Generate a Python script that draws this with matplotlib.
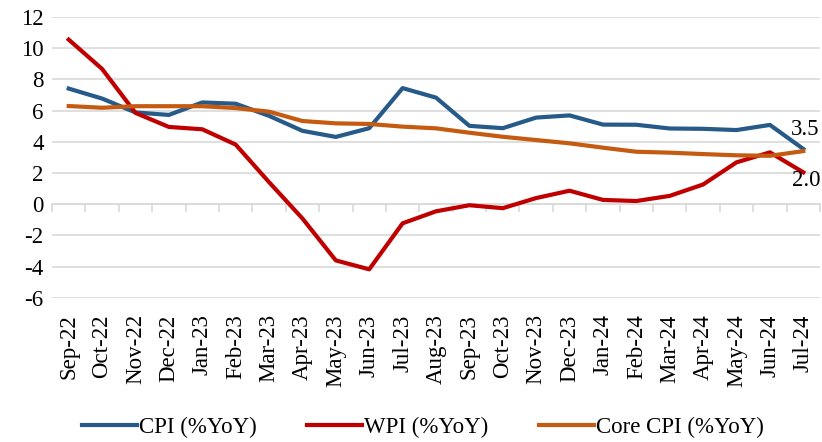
import numpy as np
import matplotlib.pyplot as plt

plt.rcParams['font.family'] = ['Liberation Serif', 'DejaVu Serif']
plt.rcParams['axes.unicode_minus'] = False

months = ['Sep-22', 'Oct-22', 'Nov-22', 'Dec-22', 'Jan-23', 'Feb-23', 'Mar-23',
          'Apr-23', 'May-23', 'Jun-23', 'Jul-23', 'Aug-23', 'Sep-23', 'Oct-23',
          'Nov-23', 'Dec-23', 'Jan-24', 'Feb-24', 'Mar-24', 'Apr-24', 'May-24',
          'Jun-24', 'Jul-24']
cpi = [7.41, 6.77, 5.88, 5.72, 6.52, 6.44, 5.66, 4.70, 4.31, 4.87, 7.44, 6.83,
       5.02, 4.87, 5.55, 5.69, 5.10, 5.09, 4.85, 4.83, 4.75, 5.08, 3.54]
wpi = [10.55, 8.67, 5.85, 4.95, 4.80, 3.82, 1.41, -0.92, -3.61, -4.18, -1.23, -0.46,
       -0.07, -0.26, 0.39, 0.86, 0.27, 0.20, 0.53, 1.26, 2.68, 3.32, 2.04]
core_cpi = [6.29, 6.18, 6.28, 6.28, 6.28, 6.16, 5.93, 5.33, 5.18, 5.14, 4.97, 4.86,
            4.58, 4.32, 4.11, 3.90, 3.62, 3.36, 3.30, 3.21, 3.13, 3.10, 3.40]

BLUE = '#265A88'
RED = '#C00000'
ORANGE = '#C55A11'
GRID = '#D9D9D9'

fig = plt.figure(figsize=(8.22, 4.42), dpi=100)
ax = fig.add_axes([52 / 822, 1 - 297.7 / 442, 768 / 822, 280.7 / 442])

x = np.arange(len(months))
ax.plot(x, cpi, color=BLUE, lw=3, label='CPI (%YoY)', zorder=3)
ax.plot(x, wpi, color=RED, lw=3, label='WPI (%YoY)', zorder=3)
ax.plot(x, core_cpi, color=ORANGE, lw=3, label='Core CPI (%YoY)', zorder=3)

ax.set_xlim(-0.5, len(months) - 0.5)
ax.set_ylim(-6, 12)
ax.set_yticks(np.arange(-6, 13, 2))
ax.yaxis.grid(True, color=GRID, lw=1.2)
ax.set_axisbelow(True)
ax.tick_params(axis='y', length=0, labelsize=16.5, pad=6)
for s in ['top', 'right', 'left']:
    ax.spines[s].set_visible(False)

# category axis crosses at zero, tick marks between categories
ax.spines['bottom'].set_position(('data', 0))
ax.spines['bottom'].set_color(GRID)
ax.spines['bottom'].set_linewidth(1.2)
ax.set_xticks(x)
ax.set_xticklabels([])
ax.tick_params(axis='x', which='major', length=0)
ax.set_xticks(np.arange(-0.5, len(months), 1), minor=True)
ax.tick_params(axis='x', which='minor', length=6, width=1.2, color=GRID, direction='out')

sec = ax.secondary_xaxis(0)
sec.set_xticks(x)
sec.set_xticklabels(months, rotation=90, fontsize=16.5)
sec.tick_params(length=0, pad=12)
sec.spines['bottom'].set_visible(False)

# end labels
ax.annotate(f'{cpi[-1]:.1f}', (x[-1], cpi[-1]), xytext=(-9, 14), textcoords='offset points',
            fontsize=16.5, ha='left', va='center', annotation_clip=False)
ax.annotate(f'{wpi[-1]:.1f}', (x[-1], wpi[-1]), xytext=(-8, -6), textcoords='offset points',
            fontsize=16.5, ha='left', va='center', annotation_clip=False)

fig.legend(loc='center', bbox_to_anchor=(423 / 822, 1 - 427 / 442), ncol=3, frameon=False,
           fontsize=16.5, handlelength=2.4, handletextpad=0.1, columnspacing=2.2)

fig.savefig('out.png', dpi=100)
